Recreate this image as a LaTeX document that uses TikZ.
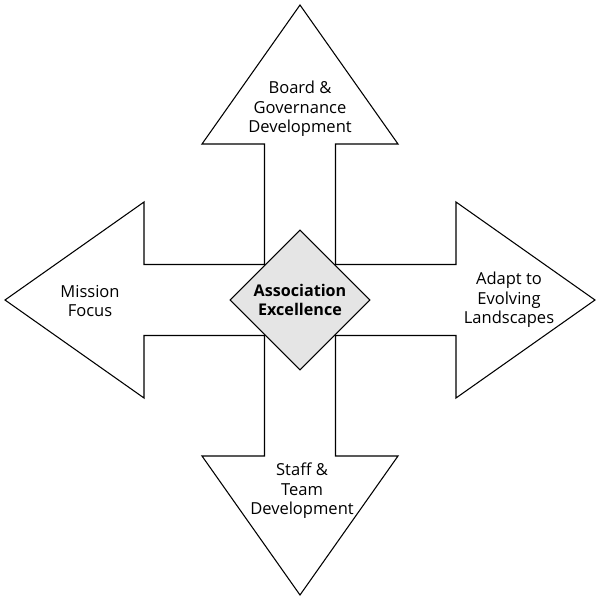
\documentclass[tikz,border=0pt]{standalone}
\usepackage{fontspec}
\setmainfont{Open Sans}
\usetikzlibrary{shapes.geometric}

\tikzset{
  armlabel/.style={align=center, inner sep=0.75pt, font=\fontsize{12.4}{14.6}\selectfont},
  hub/.style={diamond, draw, line width=0.8pt, fill=black!10, minimum width=105pt, minimum height=105pt, inner sep=0pt, align=center, font=\bfseries\fontsize{12.1}{13.8}\selectfont}
}

\begin{document}
\begin{tikzpicture}[x=0.75pt,y=0.75pt,yscale=-1,xscale=1]
        \useasboundingbox (0,0) rectangle (600,600);
        % the four arrows as one outline
        \draw [line width=0.8pt, line join=miter]  (300,5) -- (398,144) -- (335.5,144) -- (335.5,264.5) -- (456,264.5) -- (456,202) -- (595,300) -- (456,398) -- (456,335.5) -- (335.5,335.5) -- (335.5,456) -- (398,456) -- (300,595) -- (202,456) -- (264.5,456) -- (264.5,335.5) -- (144,335.5) -- (144,398) -- (5,300) -- (144,202) -- (144,264.5) -- (264.5,264.5) -- (264.5,144) -- (202,144) -- cycle ;

        \node [hub] (hub) at (300,300) {Association\\Excellence};

        \node [armlabel] (board) at (300,109) {Board \&\\Governance\\Development};
        \node [armlabel] (mission) at (90,301) {Mission\\Focus};
        \node [armlabel] (adapt) at (509,300) {Adapt to\\Evolving\\Landscapes};
        \node [armlabel] (staff) at (302,491) {Staff \&\\Team\\Development};
\end{tikzpicture}
\end{document}
